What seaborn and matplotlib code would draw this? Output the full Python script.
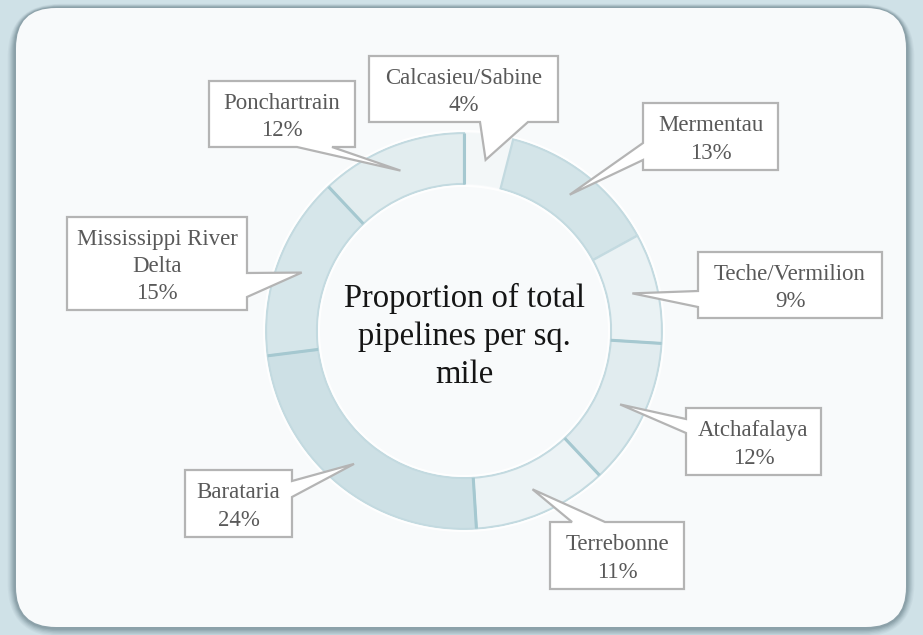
import numpy as np
import matplotlib
matplotlib.use("Agg")
import matplotlib.pyplot as plt
import seaborn as sns
from matplotlib.patches import FancyBboxPatch, Polygon

# ---------------- data ----------------
regions = ["Calcasieu/Sabine", "Mermentau", "Teche/Vermilion", "Atchafalaya",
           "Terrebonne", "Barataria", "Mississippi River\nDelta", "Ponchartrain"]
percents = [4, 13, 9, 12, 11, 24, 15, 12]
center_title = "Proportion of total\npipelines per sq.\nmile"

# ---------------- style ----------------
sns.set_theme(style="white")
plt.rcParams["font.family"] = ["Liberation Serif", "DejaVu Serif"]

slice_colors = ["#f3f7f8", "#d3e4e8", "#eaf2f4", "#e1ecef",
                "#ecf3f5", "#cde0e5", "#d6e6ea", "#e2edef"]

W, H = 923, 635
fig = plt.figure(figsize=(W / 100, H / 100), dpi=100)
fig.patch.set_facecolor("#cfe1e7")

# background axes in pixel coordinates
bg = fig.add_axes([0, 0, 1, 1])
bg.set_xlim(0, W)
bg.set_ylim(H, 0)
bg.axis("off")
bg.set_zorder(0)

# shadow of panel
for i, a in enumerate([0.05, 0.06, 0.08, 0.10, 0.12, 0.14]):
    g = 14 - 2 * i
    bg.add_patch(FancyBboxPatch((16 - g * 0.6, 8 - g * 0.3), 890 + g * 1.2, 619 + g * 1.0,
                                boxstyle="round,pad=0,rounding_size=%d" % (40 + g),
                                fc="#3d5560", ec="none", alpha=a))
bg.add_patch(FancyBboxPatch((16, 8), 890, 619,
                            boxstyle="round,pad=0,rounding_size=40",
                            fc="#f8fafb", ec="none"))

# donut axes
cx, cy, R = 464, 331, 198
box = 420
pie_ax = fig.add_axes([(cx - box / 2) / W, (H - cy - box / 2) / H, box / W, box / H])
pie_ax.set_zorder(1)

ring_w = 51
wedges, _ = pie_ax.pie(percents, radius=R, startangle=90, counterclock=False,
                       colors=slice_colors,
                       wedgeprops=dict(width=ring_w, edgecolor="#c3dae0", linewidth=1.6))
wedges[0].set_edgecolor("none")
wedges[0].set_zorder(0.5)
pie_ax.set_xlim(-box / 2, box / 2)
pie_ax.set_ylim(-box / 2, box / 2)
pie_ax.set_aspect("equal")
pie_ax.axis("off")

# white halo lines at ring edges
th = np.linspace(0, 2 * np.pi, 400)
pie_ax.plot((R + 2) * np.cos(th), (R + 2) * np.sin(th), color="white", lw=1.5, alpha=0.9)
pie_ax.plot((R - ring_w - 2) * np.cos(th), (R - ring_w - 2) * np.sin(th), color="white", lw=1.5, alpha=0.9)

# darker dividers between slices (not around the thin top slice)
for i, wdg in enumerate(wedges):
    if i in (0, 1):
        continue
    ang = np.deg2rad(wdg.theta1)
    pie_ax.plot([(R - ring_w) * np.cos(ang), R * np.cos(ang)],
                [(R - ring_w) * np.sin(ang), R * np.sin(ang)],
                color="#a5c8d0", lw=2.2, solid_capstyle="butt")

pie_ax.text(0, -5, center_title, ha="center", va="center", fontsize=23.5,
            color="#151515", linespacing=1.32)

# overlay axes for callouts
top = fig.add_axes([0, 0, 1, 1])
top.set_xlim(0, W)
top.set_ylim(H, 0)
top.axis("off")
top.patch.set_alpha(0)
top.set_zorder(2)

# callout layout: box (x0, y0, x1, y1), pointer side, base range
layout = {
    "Calcasieu/Sabine": ((369, 56, 558, 122), "bottom", (480, 528)),
    "Mermentau": ((643, 103, 778, 170), "left", (143, 160)),
    "Teche/Vermilion": ((698, 252, 882, 318), "left", (291, 307)),
    "Atchafalaya": ((686, 408, 821, 475), "left", (419, 433)),
    "Terrebonne": ((550, 522, 684, 589), "top", (572, 605)),
    "Barataria": ((185, 470, 292, 537), "right", (481, 497)),
    "Mississippi River\nDelta": ((67, 217, 247, 310), "right", (273, 297)),
    "Ponchartrain": ((209, 81, 355, 147), "bottom", (297, 332)),
}

to_px = pie_ax.transData + top.transData.inverted()
r_mid = R - ring_w / 2
for name, pct, wdg in zip(regions, percents, wedges):
    (x0, y0, x1, y1), side, (b0, b1) = layout[name]
    mid = np.deg2rad((wdg.theta1 + wdg.theta2) / 2)
    tx, ty = to_px.transform((r_mid * np.cos(mid), r_mid * np.sin(mid)))
    tip = (tx, ty)
    if side == "top":
        pts = [(x0, y0), (b0, y0), tip, (b1, y0), (x1, y0), (x1, y1), (x0, y1)]
    elif side == "right":
        pts = [(x0, y0), (x1, y0), (x1, b0), tip, (x1, b1), (x1, y1), (x0, y1)]
    elif side == "bottom":
        pts = [(x0, y0), (x1, y0), (x1, y1), (b1, y1), tip, (b0, y1), (x0, y1)]
    else:
        pts = [(x0, y0), (x1, y0), (x1, y1), (x0, y1), (x0, b1), tip, (x0, b0)]
    top.add_patch(Polygon(pts, closed=True, fc="white", ec="#b4b4b4", lw=1.6,
                          joinstyle="miter"))
    top.text((x0 + x1) / 2, (y0 + y1) / 2 + 3, f"{name}\n{pct}%", ha="center", va="center",
             fontsize=16.5, color="#595959", linespacing=1.4)

fig.savefig("out.png", dpi=100, facecolor=fig.get_facecolor())
